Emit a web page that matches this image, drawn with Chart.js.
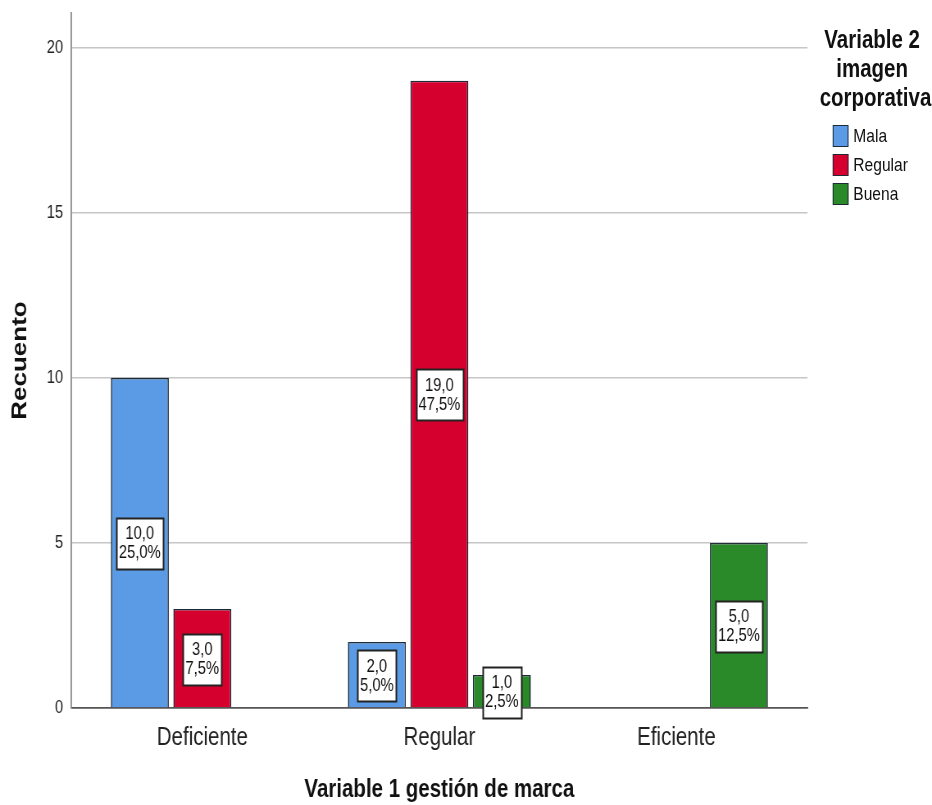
<!DOCTYPE html>
<html>
<head>
<meta charset="utf-8">
<title>Variable 1 gestión de marca</title>
<script src="https://cdn.jsdelivr.net/npm/chart.js@4.4.1/dist/chart.umd.min.js"></script>
<style>
html, body { margin: 0; padding: 0; background: #fff; overflow: hidden; }
/* the original picture is squeezed sideways, so the whole chart is drawn wider and scaled back to 932px */
#wrap { position: relative; width: 1137px; height: 805px; transform: scaleX(0.8197); transform-origin: 0 0; }
#legend { position: absolute; left: 1000px; top: 25px; width: 137px; height: 200px; color: #111;
  font-family: "Liberation Sans", Arial, sans-serif; }
#legend .title { width: 128px; font-weight: bold; font-size: 25px; line-height: 29px; text-align: center; }
#legend .item { position: absolute; left: 16px; height: 22px; font-size: 19px; line-height: 22px; white-space: nowrap; }
#legend .box { display: inline-block; width: 17px; height: 20px; border: 1px solid #1f2a38; vertical-align: top; margin-right: 6px; }
</style>
</head>
<body>
<div id="wrap">
  <canvas id="c1" width="1137" height="805"></canvas>
  <div id="legend"></div>
</div>
<script>
// data
var categories = ['Deficiente', 'Regular', 'Eficiente'];
var seriesNames = ['Mala', 'Regular', 'Buena'];
var malaCounts    = [10, 2, null];
var regularCounts = [3, 19, null];
var buenaCounts   = [null, 1, 5];
var malaPct    = [25.0, 5.0, null];
var regularPct = [7.5, 47.5, null];
var buenaPct   = [null, 2.5, 12.5];
var yTicks = [0, 5, 10, 15, 20];

var colors = ['#5b9ae4', '#d6002f', '#2a8a2a'];
var fontFam = '"Liberation Sans", Arial, sans-serif';

// turn one series into {x, y, pct} points, skipping the empty cells
function points(counts, pct) {
  var out = [];
  for (var i = 0; i < counts.length; i++) {
    if (counts[i] === null) continue;
    out.push({ x: i, y: counts[i], pct: pct[i] });
  }
  return out;
}

function fmt(v) {
  return v.toFixed(1).replace('.', ',');
}

// white boxes with count and percent in the middle of each bar
var barLabels = {
  id: 'barLabels',
  afterDatasetsDraw: function(chart) {
    var ctx = chart.ctx;
    ctx.save();
    ctx.font = '18px ' + fontFam;
    ctx.textAlign = 'center';
    ctx.textBaseline = 'middle';
    chart.data.datasets.forEach(function(ds, di) {
      var meta = chart.getDatasetMeta(di);
      meta.data.forEach(function(bar, j) {
        var p = ds.data[j];
        var l1 = fmt(p.y), l2 = fmt(p.pct) + '%';
        var w = Math.round(Math.max(ctx.measureText(l1).width, ctx.measureText(l2).width) + 6);
        var h = 51;
        var cy = (bar.y + bar.base) / 2 + 1;
        var x0 = Math.round(bar.x - w / 2) + 0.5, y0 = Math.round(cy - h / 2) + 0.5;
        ctx.fillStyle = '#fff';
        ctx.fillRect(x0, y0, w, h);
        ctx.strokeStyle = '#222';
        ctx.lineWidth = 2;
        ctx.strokeRect(x0, y0, w, h);
        ctx.fillStyle = '#111';
        ctx.fillText(l1, bar.x, cy - 9);
        ctx.fillText(l2, bar.x, cy + 10);
      });
    });
    ctx.restore();
  }
};

function drawChart(id) {
  var sets = [
    points(malaCounts, malaPct),
    points(regularCounts, regularPct),
    points(buenaCounts, buenaPct)
  ];
  var datasets = seriesNames.map(function(name, i) {
    return {
      label: name,
      data: sets[i],
      backgroundColor: colors[i],
      borderColor: '#1f2a38',
      borderWidth: 1.6,
      barPercentage: 0.928,
      categoryPercentage: 0.791
    };
  });

  new Chart(document.getElementById(id), {
    type: 'bar',
    data: { datasets: datasets },
    plugins: [barLabels],
    options: {
      responsive: false,
      animation: false,
      devicePixelRatio: 1,
      layout: { padding: { top: 13, right: 152, left: 0, bottom: 0 } },
      plugins: { legend: { display: false }, tooltip: { enabled: false } },
      scales: {
        x: {
          type: 'linear',
          offset: false,
          min: -0.5527,
          max: 2.5527,
          afterBuildTicks: function(axis) {
            axis.ticks = categories.map(function(c, i) { return { value: i }; });
          },
          afterFit: function(axis) { axis.height = 97; },
          grid: { display: false, drawTicks: false, offset: false },
          border: { display: true, color: '#555', width: 1.6 },
          ticks: {
            padding: 15,
            color: '#222',
            font: { family: fontFam, size: 25 },
            callback: function(v) { return categories[v]; }
          },
          title: {
            display: true,
            text: 'Variable 1 gestión de marca',
            color: '#111',
            font: { family: fontFam, size: 25, weight: 'bold' },
            padding: { top: 0, bottom: 0 }
          }
        },
        y: {
          min: 0,
          max: 21.05,
          afterBuildTicks: function(axis) {
            axis.ticks = yTicks.map(function(v) { return { value: v }; });
          },
          // fixed width, and no extra room above the axis for the top label
          afterFit: function(axis) {
            axis.width = 87;
            axis.paddingTop = 0;
            axis.paddingBottom = 0;
          },
          grid: {
            drawTicks: false,
            lineWidth: 1.6,
            color: function(c) { return c.tick && c.tick.value === 0 ? '#555' : '#c6c6c6'; }
          },
          border: { display: true, color: '#8a8a8a', width: 1.8 },
          ticks: {
            padding: 10,
            color: '#222',
            font: { family: fontFam, size: 18 }
          },
          title: {
            display: true,
            text: 'Recuento',
            color: '#111',
            font: { family: fontFam, size: 26, weight: 'bold' },
            padding: { top: 9, bottom: 0 }
          }
        }
      }
    }
  });
}

// legend on the right, plain html
function drawLegend(id) {
  var el = document.getElementById(id);
  var html = '<div class="title">Variable 2<br>imagen<br>corporativa</div>';
  seriesNames.forEach(function(name, i) {
    html += '<div class="item" style="top:' + (100 + i * 29) + 'px"><span class="box" style="background:' +
      colors[i] + '"></span>' + name + '</div>';
  });
  el.innerHTML = html;
}

drawChart('c1');
drawLegend('legend');
</script>
</body>
</html>
